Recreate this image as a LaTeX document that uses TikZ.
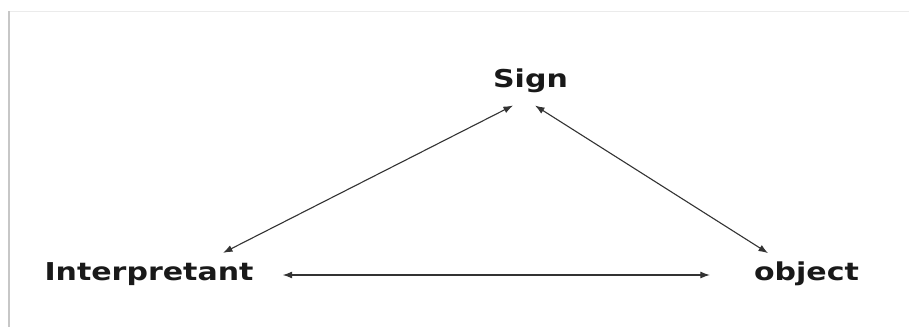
\documentclass[tikz,border=0pt]{standalone}
\usepackage{fontspec}
\newfontfamily\labfont{DejaVu Sans}[FakeStretch=1.22]
\usetikzlibrary{arrows.meta,calc}
\begin{document}
\begin{tikzpicture}[x=1pt,y=-1pt,
  lab/.style={font=\labfont\bfseries\fontsize{24.6}{26}\selectfont, inner sep=0pt, anchor=base, text=black!90},
  arr/.style={draw=black!80, line width=1.1pt,
    {Latex[length=9.5pt,width=7pt]}-{Latex[length=9.5pt,width=7pt]}}]
\useasboundingbox (0,0) rectangle (909,327);
\fill[white] (0,0) rectangle (909,327);
\draw[black!8, line width=1pt] (8,11) -- (909,11);
\draw[black!22, line width=2pt] (9,11) -- (9,327);
\node[lab] (S) at (530.5,87) {Sign};
\node[lab] (I) at (149,280) {Interpretant};
\node[lab] (O) at (806.5,280) {object};
\draw[arr] ($(S.south)+(-17.5,13)$) -- ($(I.north)+(74,-9)$);
\draw[arr] ($(S.south)+(4.5,13)$) -- ($(O.north)+(-38.5,-8)$);
\draw[arr] ($(I.base east)+(29,-5)$) -- ($(O.base west)+(-44,-5)$);
\end{tikzpicture}
\end{document}
